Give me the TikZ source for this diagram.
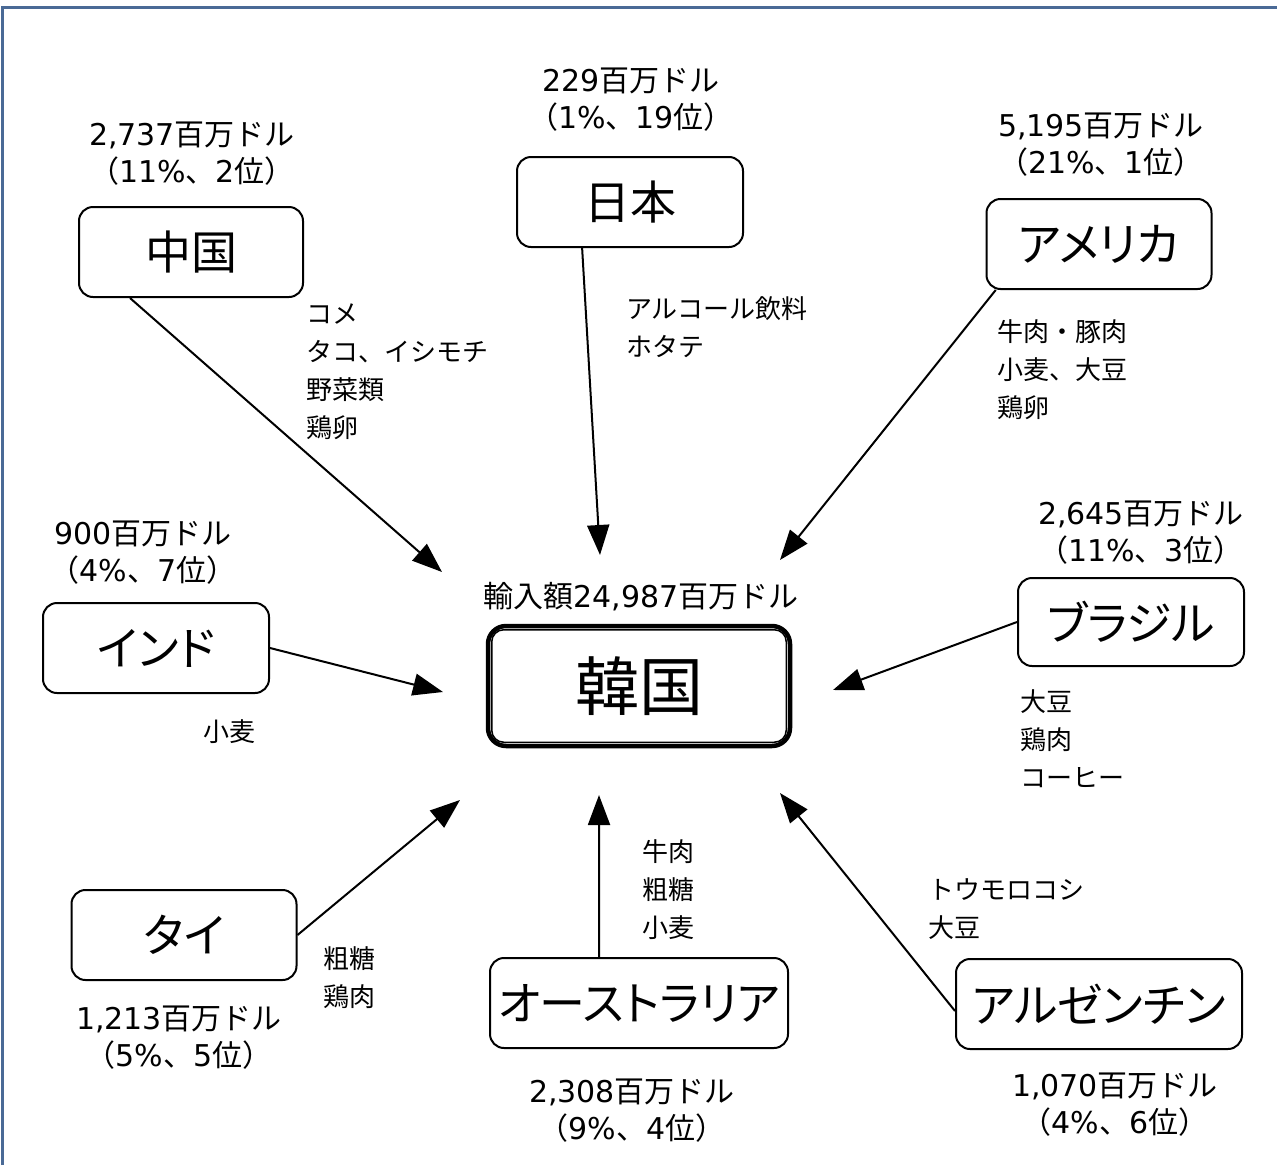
\documentclass[tikz,border=0pt]{standalone}
\usepackage{fontspec}
\setmainfont{Noto Sans CJK JP}
\newfontfamily\boxfont{Noto Sans CJK JP}[RawFeature=+palt]
\newfontfamily\lat{DejaVu Sans}
\usetikzlibrary{arrows.meta,calc}
\definecolor{framec}{RGB}{74,106,150}
\begin{document}
\begin{tikzpicture}[x=1pt,y=-1pt,
  box/.style={draw, line width=2pt, rounded corners=14pt, minimum height=90pt, inner sep=0pt,
    font=\boxfont\fontsize{46}{46}\selectfont},
  arr/.style={-{Triangle[length=30pt,width=22pt]}, line width=2pt},
  amount/.style={align=center, inner sep=0pt, font=\fontsize{30}{37}\selectfont},
  items/.style={align=left, anchor=west, inner sep=0pt, font=\fontsize{26}{38}\selectfont}]
\useasboundingbox (0,0) rectangle (1277,1165);
\draw[framec, line width=3pt] (2,1165) -- (2,7) -- (1277,7);

% center node
\node[draw, line width=4.5pt, rounded corners=18pt, minimum width=302pt, minimum height=120pt,
  inner sep=0pt, font=\fontsize{64}{64}\selectfont] (kr) at (639,686) {韓国};
\draw[line width=1.5pt, rounded corners=12pt] ([shift={(6,6)}]kr.north west) rectangle ([shift={(-6,-6)}]kr.south east);
\node[amount] (krl) at (641,597) {輸入額{\lat 24,987}百万ドル};

% country boxes
\node[box, minimum width=224pt] (cn) at (191,252) {中国};
\node[box, minimum width=226pt] (jp) at (630,202) {日本};
\node[box, minimum width=225pt] (us) at (1099,244) {アメリカ};
\node[box, minimum width=226pt] (in) at (156,648) {インド};
\node[box, minimum width=226pt, minimum height=88pt] (br) at (1131,622) {ブラジル};
\node[box, minimum width=225pt] (th) at (184,935) {タイ};
\node[box, minimum width=298pt] (au) at (639,1003) {オーストラリア};
\node[box, minimum width=286pt] (ar) at (1099,1004) {アルゼンチン};

% amount labels
\node[amount] (cna) at (192,154) {{\lat 2,737}百万ドル\\（{\lat 11\%}、{\lat 2}位）};
\node[amount] (jpa) at (631,100) {{\lat 229}百万ドル\\（{\lat 1\%}、{\lat 19}位）};
\node[amount] (usa) at (1101,145) {{\lat 5,195}百万ドル\\（{\lat 21\%}、{\lat 1}位）};
\node[amount] (ina) at (143,553) {{\lat 900}百万ドル\\（{\lat 4\%}、{\lat 7}位）};
\node[amount] (bra) at (1141,533) {{\lat 2,645}百万ドル\\（{\lat 11\%}、{\lat 3}位）};
\node[amount] (tha) at (179,1038) {{\lat 1,213}百万ドル\\（{\lat 5\%}、{\lat 5}位）};
\node[amount] (aua) at (632,1111) {{\lat 2,308}百万ドル\\（{\lat 9\%}、{\lat 4}位）};
\node[amount] (ara) at (1115,1105) {{\lat 1,070}百万ドル\\（{\lat 4\%}、{\lat 6}位）};

% item labels
\node[items] (cni) at (306,372) {コメ\\タコ、イシモチ\\野菜類\\鶏卵};
\node[items] (jpi) at (626,327) {アルコール飲料\\ホタテ};
\node[items] (usi) at (997,370) {牛肉・豚肉\\小麦、大豆\\鶏卵};
\node[items] (ini) at (203,732) {小麦};
\node[items] (bri) at (1020,739) {大豆\\鶏肉\\コーヒー};
\node[items] (thi) at (323,978) {粗糖\\鶏肉};
\node[items] (aui) at (642,890) {牛肉\\粗糖\\小麦};
\node[items] (ari) at (928,909) {トウモロコシ\\大豆};

% arrow ends near the center box
\coordinate (cnE) at (442,572);
\coordinate (jpE) at (600,555);
\coordinate (usE) at (780,560);
\coordinate (inE) at (443,692);
\coordinate (brE) at (833,690);
\coordinate (thE) at (460,800);
\coordinate (auE) at (599,795);
\coordinate (arE) at (780,793);

\draw[arr] ($(cn.south west)!0.23!(cn.south east)$) -- (cnE);
\draw[arr] ($(jp.south west)!0.29!(jp.south east)$) -- (jpE);
\draw[arr] ($(us.south west)!0.045!(us.south east)$) -- (usE);
\draw[arr] (in.east) -- (inE);
\draw[arr] (br.west) -- (brE);
\draw[arr] (th.east) -- (thE);
\draw[arr] ($(au.north west)!0.367!(au.north east)$) -- (auE);
\draw[arr] ([yshift=-7pt]ar.west) -- (arE);
\end{tikzpicture}
\end{document}
